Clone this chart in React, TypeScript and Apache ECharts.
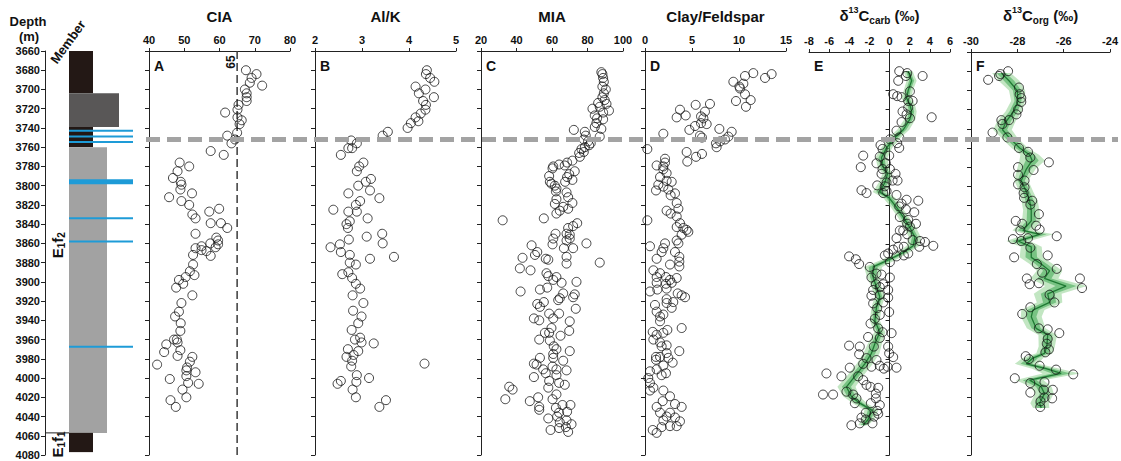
import React, { useEffect, useRef } from 'react';
import * as echarts from 'echarts';

const FONT = '"Liberation Sans", Arial, sans-serif';

// ---------- axes ----------
const DEPTH_MIN = 3660;
const DEPTH_MAX = 4080;
const DEPTH_STEP = 20;
const BOUNDARY_DEPTH = 3752;
const CIA_THRESHOLD = 65;

// ---------- lithology column ----------
// [top depth, bottom depth, lithology]
const LITHO_BEDS: [number, number, string][] = [
  [3660, 3704, 'black'],
  [3704, 3739, 'darkgrey'],
  [3739, 3760, 'black'],
  [3760, 4057, 'lightgrey'],
  [4057, 4077, 'black'],
];
// [depth, kind]
const BLUE_BEDS: [number, string][] = [
  [3743, 'thin'],
  [3749, 'thin'],
  [3754.5, 'thin'],
  [3796, 'thick'],
  [3834, 'thin'],
  [3858, 'thin'],
  [3967.5, 'thin'],
];
// members: [top, bottom, label depth, rich label]
const MEMBERS: [number, number, number, string][] = [
  [3660, 4057, 3862, 'E{s|1}f{s|2}'],
  [4057, 4080, 4069, 'E{s|1}f{s|1}'],
];

// ---------- data: [depth (m), value] ----------
const CIA_DATA: [number, number][] = [
  [3680, 67.5], [3684, 70.5], [3688, 69.1], [3693, 68.6], [3696, 72.1], [3700, 67.2], [3704, 67.7], [3708, 67.7],
  [3712, 67.7], [3716, 65.4], [3721, 65.1], [3724, 61.6], [3729, 65.1], [3732, 66.3], [3736, 65.7], [3745, 65.0],
  [3748, 62.2], [3752, 64.4], [3756, 63.4], [3764, 57.5], [3768, 61.2], [3776, 48.7], [3780, 51.4], [3785, 48.1],
  [3792, 46.8], [3796, 49.0], [3799, 49.2], [3804, 48.9], [3808, 52.2], [3812, 45.7], [3816, 49.2], [3820, 51.4],
  [3824, 59.9], [3827, 57.1], [3830, 52.3], [3834, 53.2], [3839, 60.4], [3839, 57.5], [3844, 62.2], [3850, 53.2],
  [3854, 59.1], [3857, 59.6], [3861, 59.6], [3860, 57.4], [3864, 58.9], [3868, 56.3], [3863, 54.9], [3867, 54.9],
  [3865, 53.2], [3873, 57.5], [3872, 52.5], [3882, 52.5], [3889, 51.6], [3895, 50.4], [3898, 48.5], [3893, 52.9],
  [3902, 49.7], [3906, 47.7], [3914, 52.3], [3922, 49.2], [3931, 48.5], [3936, 47.4], [3943, 49.0], [3951, 48.9],
  [3960, 47.9], [3965, 44.9], [3973, 44.3], [3963, 48.1], [3960, 47.1], [3971, 48.9], [3977, 48.1], [3978, 52.3],
  [3983, 51.6], [3989, 50.8], [3986, 42.3], [3992, 50.6], [3994, 53.2], [4001, 45.9], [3998, 50.6], [4005, 51.1],
  [4006, 54.1], [4012, 49.5], [4020, 50.6], [4023, 46.1], [4030, 47.6],
];

const ALK_DATA: [number, number][] = [
  [3680, 4.38], [3684, 4.36], [3688, 4.45], [3692, 4.54], [3697, 4.14], [3700, 4.35], [3704, 4.21], [3708, 4.53],
  [3712, 4.30], [3716, 4.36], [3721, 4.35], [3725, 4.25], [3729, 4.14], [3733, 4.20], [3735, 4.04], [3740, 3.97],
  [3744, 3.55], [3748, 3.44], [3753, 2.77], [3756, 2.89], [3761, 2.71], [3761, 2.79], [3768, 2.55], [3776, 3.03],
  [3780, 2.94], [3785, 2.89], [3793, 3.19], [3796, 3.08], [3800, 2.92], [3805, 3.17], [3808, 2.71], [3813, 3.37],
  [3816, 2.96], [3820, 2.87], [3825, 2.39], [3827, 2.71], [3827, 2.89], [3834, 3.12], [3837, 2.74], [3840, 2.67],
  [3844, 2.70], [3850, 3.43], [3853, 3.10], [3856, 2.72], [3860, 3.44], [3861, 2.53], [3864, 2.33], [3869, 2.55],
  [3872, 2.74], [3874, 3.68], [3876, 3.17], [3880, 2.74], [3882, 2.87], [3892, 2.58], [3890, 2.71], [3896, 2.79],
  [3902, 2.87], [3907, 2.96], [3914, 2.80], [3922, 3.03], [3930, 2.81], [3936, 2.99], [3943, 2.92], [3950, 2.78],
  [3960, 2.85], [3958, 2.96], [3963, 2.99], [3964, 3.25], [3970, 2.70], [3972, 2.92], [3978, 2.67], [3976, 2.82],
  [3982, 2.79], [3988, 2.77], [3985, 4.33], [4003, 2.55], [3997, 2.89], [4000, 3.15], [4004, 2.88], [4006, 2.48],
  [4012, 2.80], [4020, 2.87], [4023, 3.51], [4030, 3.37],
];

const MIA_DATA: [number, number][] = [
  [3682, 87.8], [3684, 88.4], [3688, 88.8], [3692, 89.2], [3697, 88.4], [3700, 90.3], [3704, 89.2], [3708, 88.4],
  [3711, 89.7], [3714, 86.0], [3715, 90.7], [3720, 82.8], [3718, 86.9], [3722, 92.1], [3724, 88.8], [3727, 84.1],
  [3730, 85.4], [3731, 88.8], [3735, 85.0], [3739, 84.1], [3741, 87.8], [3749, 86.9], [3742, 72.3], [3744, 78.5],
  [3748, 79.0], [3752, 77.9], [3754, 80.3], [3756, 81.8], [3760, 78.5], [3758, 80.9], [3762, 76.6], [3766, 75.3],
  [3765, 77.9], [3770, 75.7], [3774, 71.5], [3776, 68.5], [3779, 67.2], [3778, 64.0], [3780, 60.7], [3782, 60.3],
  [3785, 72.8], [3788, 69.7], [3791, 68.5], [3790, 58.4], [3796, 58.8], [3796, 67.4], [3794, 71.5], [3798, 59.7],
  [3800, 61.6], [3803, 62.5], [3807, 68.2], [3806, 62.2], [3812, 69.1], [3814, 62.5], [3818, 71.5], [3819, 61.6],
  [3822, 66.3], [3824, 69.1], [3826, 64.4], [3829, 62.5], [3834, 55.4], [3836, 32.2], [3839, 74.2], [3842, 71.9],
  [3844, 69.1], [3850, 68.2], [3850, 62.0], [3855, 60.7], [3851, 70.0], [3855, 70.0], [3857, 68.2], [3862, 48.5],
  [3860, 79.4], [3861, 60.3], [3865, 66.7], [3869, 51.7], [3872, 50.4], [3865, 71.9], [3875, 43.4], [3876, 56.5],
  [3874, 68.2], [3886, 41.9], [3888, 47.9], [3877, 57.9], [3881, 68.2], [3891, 56.9], [3880, 86.9], [3894, 57.9],
  [3895, 62.5], [3898, 60.7], [3901, 65.4], [3900, 73.8], [3906, 57.3], [3908, 53.2], [3910, 42.3], [3912, 66.3],
  [3913, 72.8], [3917, 64.4], [3916, 71.9], [3919, 63.5], [3921, 55.4], [3923, 51.7], [3926, 53.2], [3928, 73.4],
  [3933, 58.4], [3933, 64.0], [3938, 49.8], [3940, 52.8], [3938, 60.7], [3948, 59.7], [3941, 70.0], [3953, 58.4],
  [3951, 69.7], [3953, 56.0], [3960, 52.8], [3956, 64.8], [3961, 58.8], [3967, 61.0], [3970, 62.5], [3972, 70.0],
  [3975, 60.7], [3979, 53.2], [3979, 60.7], [3985, 49.8], [3982, 66.3], [3986, 51.3], [3988, 60.3], [3991, 55.0],
  [3991, 62.5], [3992, 68.2], [3999, 49.8], [3995, 56.5], [3997, 62.5], [4003, 58.4], [4005, 64.0], [4007, 67.2],
  [4009, 35.9], [4012, 37.8], [4010, 57.9], [4022, 33.7], [4024, 47.5], [4020, 52.2], [4022, 60.3], [4017, 62.5],
  [4028, 65.9], [4028, 70.4], [4030, 52.8], [4033, 52.8], [4031, 62.2], [4036, 64.0], [4035, 68.5], [4040, 62.9],
  [4042, 57.9], [4046, 64.4], [4044, 68.2], [4048, 71.0], [4054, 59.2], [4052, 64.0], [4051, 67.8], [4056, 69.1],
];

const CF_DATA: [number, number][] = [
  [3683, 11.52], [3684, 13.47], [3688, 12.77], [3686, 10.64], [3692, 9.40], [3697, 10.04], [3694, 10.46], [3699, 10.11],
  [3705, 10.64], [3712, 9.68], [3711, 11.24], [3718, 10.74], [3716, 5.39], [3715, 6.91], [3721, 3.72], [3723, 6.38],
  [3727, 4.33], [3729, 3.37], [3730, 6.21], [3728, 5.96], [3736, 6.56], [3735, 5.96], [3738, 5.32], [3742, 4.72],
  [3741, 7.91], [3748, 5.85], [3750, 6.06], [3744, 9.22], [3749, 8.87], [3752, 8.51], [3754, 7.98], [3756, 7.55],
  [3760, 7.62], [3746, 1.95], [3762, 0.25], [3765, 4.43], [3767, 6.06], [3770, 5.43], [3775, 4.50], [3772, 2.13],
  [3779, 1.24], [3776, 2.13], [3780, 1.95], [3783, 1.95], [3787, 2.30], [3791, 1.60], [3796, 2.84], [3795, 2.30],
  [3799, 1.42], [3801, 1.95], [3804, 2.48], [3808, 3.19], [3805, 1.17], [3810, 2.73], [3818, 3.37], [3824, 3.55],
  [3826, 2.30], [3829, 2.73], [3832, 3.37], [3836, 0.25], [3839, 3.72], [3843, 3.37], [3844, 4.08], [3846, 4.43],
  [3848, 4.61], [3851, 3.90], [3857, 3.37], [3860, 3.55], [3863, 0.53], [3860, 2.13], [3865, 1.95], [3869, 1.77],
  [3876, 1.24], [3869, 3.19], [3874, 3.65], [3879, 3.65], [3882, 2.66], [3884, 3.65], [3888, 0.89], [3891, 1.60],
  [3895, 1.24], [3895, 2.23], [3898, 2.66], [3896, 3.37], [3901, 1.24], [3902, 2.23], [3901, 2.84], [3910, 0.53],
  [3908, 1.31], [3907, 2.30], [3912, 3.48], [3914, 3.90], [3916, 4.26], [3921, 3.01], [3918, 2.30], [3922, 2.30],
  [3927, 2.84], [3924, 1.06], [3931, 1.24], [3934, 1.95], [3936, 1.60], [3941, 1.60], [3948, 3.90], [3950, 2.38],
  [3952, 0.82], [3955, 1.24], [3953, 1.95], [3960, 0.89], [3963, 1.60], [3966, 2.30], [3967, 1.77], [3972, 3.65],
  [3974, 2.30], [3978, 1.17], [3978, 1.60], [3979, 2.48], [3984, 2.94], [3981, 1.17], [3987, 1.95], [3991, 1.24],
  [3995, 2.23], [3993, 0.53], [3997, 1.77], [4000, 0.35], [4005, 0.53], [4010, 0.89], [4013, 0.53], [4013, 1.95],
  [4019, 2.66], [4024, 1.88], [4027, 3.19], [4030, 3.90], [4030, 1.24], [4036, 1.60], [4036, 2.66], [4040, 2.30],
  [4041, 3.19], [4044, 1.95], [4045, 3.72], [4050, 2.66], [4050, 3.37], [4051, 1.77], [4054, 0.82], [4057, 1.24],
];

const CCARB_DATA: [number, number][] = [
  [3680, 0.96], [3682, 1.75], [3685, 3.28], [3685, 1.62], [3690, 0.86], [3704, 0.36], [3706, 0.76], [3701, 2.02],
  [3707, 1.19], [3711, 1.85], [3711, 2.29], [3722, 1.29], [3718, 1.85], [3728, 4.18], [3725, 1.69], [3729, 2.02],
  [3733, 1.19], [3742, 0.69], [3749, 0.96], [3751, 0.03], [3757, -0.90], [3761, -0.70], [3755, 0.76], [3760, 0.96],
  [3768, -2.62], [3768, -0.04], [3769, -0.97], [3780, -2.86], [3776, -1.30], [3776, -0.37], [3782, -0.70], [3782, 0.03],
  [3787, -0.80], [3787, 0.59], [3794, 0.79], [3794, 0.30], [3796, -0.30], [3800, -0.47], [3799, -1.23], [3804, -2.79],
  [3807, -2.29], [3805, -0.30], [3809, 0.69], [3807, -0.63], [3814, 1.69], [3815, 2.85], [3818, 1.19], [3821, 0.96],
  [3824, 1.62], [3827, 2.45], [3832, 1.02], [3835, 1.85], [3839, 1.75], [3839, 2.62], [3842, 2.02], [3846, 1.02],
  [3846, 1.36], [3850, 1.75], [3854, 0.69], [3856, 2.29], [3857, 3.02], [3858, 3.51], [3863, 2.95], [3870, 1.85],
  [3863, 0.86], [3862, 4.34], [3863, 1.42], [3866, 0.36], [3870, -0.14], [3872, -0.47], [3873, 0.69], [3872, 1.42],
  [3879, 0.03], [3873, -4.02], [3876, -3.35], [3881, -3.02], [3884, -1.96], [3891, -1.30], [3892, -0.80], [3895, -1.80],
  [3895, 0.03], [3902, -0.63], [3902, -1.36], [3905, -0.97], [3908, -1.63], [3908, -0.14], [3914, -1.80], [3913, -0.97],
  [3916, -0.14], [3921, -0.63], [3922, -1.63], [3927, -1.23], [3931, -0.04], [3934, -0.97], [3938, -1.46], [3943, -1.89],
  [3948, -1.13], [3952, -0.70], [3953, 0.20], [3957, -2.13], [3958, -0.97], [3966, -4.02], [3967, -2.96], [3967, -1.56],
  [3967, -0.14], [3974, -0.04], [3978, 0.36], [3975, -3.02], [3979, -2.29], [3981, -1.30], [3985, -2.62], [3987, -0.97],
  [3990, -0.57], [3988, -0.20], [3989, 0.69], [3988, -1.80], [3989, -3.95], [3995, -6.27], [3998, -4.78], [3998, -3.12],
  [4002, -2.62], [4007, -2.29], [4009, -1.89], [4010, -1.13], [4016, -1.36], [4017, -6.61], [4017, -5.61], [4014, -4.28],
  [4017, -3.62], [4021, -3.29], [4021, -1.36], [4026, -1.86], [4026, -3.45], [4028, -0.97], [4034, -1.23], [4037, -1.13],
  [4036, -2.36], [4040, -1.53], [4041, -2.79], [4047, -2.96], [4043, -2.36], [4047, -1.70], [4049, -3.79],
];

const CORG_DATA: [number, number][] = [
  [3680, -28.40], [3683, -28.73], [3689, -29.26], [3685, -28.79], [3697, -27.93], [3704, -27.90], [3708, -27.83],
  [3712, -27.83], [3720, -27.97], [3725, -28.04], [3731, -28.69], [3731, -28.36], [3735, -28.64], [3744, -29.07],
  [3749, -28.43], [3760, -27.93], [3764, -27.54], [3770, -27.44], [3775, -26.64], [3783, -27.30], [3780, -27.97],
  [3788, -27.97], [3798, -27.97], [3794, -27.69], [3801, -27.69], [3807, -27.73], [3812, -27.71], [3815, -27.36],
  [3819, -27.44], [3829, -27.07], [3836, -28.07], [3839, -27.79], [3841, -27.19], [3845, -27.04], [3846, -27.87],
  [3852, -26.30], [3855, -28.19], [3857, -27.83], [3854, -27.54], [3864, -27.44], [3872, -26.69], [3874, -28.14],
  [3881, -27.16], [3886, -26.30], [3890, -26.93], [3896, -27.59], [3902, -27.47], [3901, -27.07], [3896, -25.30],
  [3906, -25.21], [3913, -26.61], [3921, -26.40], [3926, -27.44], [3933, -27.79], [3948, -27.07], [3949, -26.69],
  [3953, -26.19], [3959, -26.69], [3964, -26.73], [3970, -26.64], [3973, -26.79], [3977, -27.64], [3980, -27.50],
  [3987, -27.04], [3991, -26.33], [3996, -25.59], [4000, -28.11], [4005, -27.44], [4004, -26.83], [4012, -26.87],
  [4012, -26.47], [4015, -27.44], [4020, -26.83], [4024, -27.00], [4021, -26.50], [4030, -27.01],
];

// trend: [depth, mean, outer half-width, inner half-width]
const CCARB_TREND: [number, number, number, number][] = [
  [3680, 1.85, 0.45, 0.22], [3685, 2.02, 0.45, 0.22], [3690, 2.19, 0.5, 0.25], [3700, 1.85, 0.45, 0.22],
  [3708, 1.69, 0.5, 0.25], [3715, 2.02, 0.5, 0.25], [3722, 2.19, 0.5, 0.25], [3730, 2.02, 0.55, 0.28],
  [3741, 1.36, 0.6, 0.3], [3749, 0.53, 0.6, 0.3], [3760, -0.30, 0.55, 0.28], [3770, -0.80, 0.6, 0.3],
  [3780, -0.63, 0.55, 0.28], [3787, -0.20, 0.5, 0.25], [3796, -0.47, 0.6, 0.3], [3806, -0.97, 0.7, 0.35],
  [3812, -0.04, 0.6, 0.3], [3822, 0.69, 0.55, 0.28], [3832, 1.36, 0.55, 0.28], [3843, 2.02, 0.6, 0.3],
  [3853, 2.52, 0.6, 0.3], [3862, 2.35, 0.65, 0.32], [3869, 1.36, 0.6, 0.3], [3876, 0.03, 0.7, 0.35],
  [3884, -1.63, 0.9, 0.45], [3895, -1.63, 0.6, 0.3], [3905, -1.30, 0.5, 0.25], [3915, -0.97, 0.5, 0.25],
  [3926, -1.30, 0.5, 0.25], [3940, -1.46, 0.5, 0.25], [3952, -0.97, 0.55, 0.28], [3964, -1.46, 0.7, 0.35],
  [3974, -1.80, 0.8, 0.4], [3985, -2.46, 0.8, 0.4], [3998, -3.45, 0.8, 0.4], [4009, -4.28, 0.9, 0.45],
  [4019, -3.79, 0.8, 0.4], [4026, -2.96, 0.7, 0.35], [4033, -1.80, 0.7, 0.35], [4043, -2.13, 0.6, 0.3],
  [4049, -2.62, 0.5, 0.25],
];

const CORG_TREND: [number, number, number, number][] = [
  [3682, -28.69, 0.4, 0.2], [3690, -28.36, 0.45, 0.22], [3700, -28.01, 0.35, 0.18], [3711, -27.97, 0.3, 0.15],
  [3722, -28.16, 0.35, 0.18], [3732, -28.47, 0.4, 0.2], [3741, -28.64, 0.4, 0.2], [3749, -28.36, 0.35, 0.18],
  [3760, -27.90, 0.35, 0.18], [3767, -27.47, 0.4, 0.2], [3773, -27.36, 0.55, 0.28], [3782, -27.61, 0.4, 0.2],
  [3794, -27.83, 0.3, 0.15], [3806, -27.61, 0.3, 0.15], [3815, -27.47, 0.35, 0.18], [3825, -27.40, 0.35, 0.18],
  [3836, -27.40, 0.4, 0.2], [3846, -27.76, 0.45, 0.22], [3850, -27.04, 0.6, 0.3], [3857, -27.97, 0.5, 0.25],
  [3863, -27.40, 0.45, 0.22], [3874, -27.40, 0.5, 0.25], [3881, -26.97, 0.5, 0.25], [3888, -26.61, 0.55, 0.28],
  [3896, -26.83, 0.6, 0.3], [3904, -25.90, 0.9, 0.45], [3912, -26.69, 0.6, 0.3], [3921, -26.61, 0.55, 0.28],
  [3929, -27.33, 0.5, 0.25], [3936, -27.40, 0.45, 0.22], [3948, -27.19, 0.4, 0.2], [3955, -26.69, 0.4, 0.2],
  [3967, -26.73, 0.35, 0.18], [3974, -26.83, 0.35, 0.18], [3979, -27.33, 0.45, 0.22], [3985, -27.61, 0.5, 0.25],
  [3990, -26.76, 0.6, 0.3], [3995, -26.11, 0.8, 0.4], [4002, -27.47, 0.6, 0.3], [4009, -26.97, 0.45, 0.22],
  [4016, -26.83, 0.4, 0.2], [4026, -27.04, 0.4, 0.2], [4031, -26.97, 0.35, 0.18],
];

// ---------- styles / layout ----------
const GRID_TOP = 51;
const GRID_HEIGHT = 404;
const LITHO_STYLE: Record<string, { right: number; color: string }> = {
  black: { right: 48, color: '#231815' },
  darkgrey: { right: 74, color: '#595757' },
  lightgrey: { right: 62, color: '#a2a2a2' },
};
const COLUMN_LEFT = 24;
const BLUE_RIGHT = 88;
const BLUE_WIDTH: Record<string, number> = { thin: 2, thick: 5 };
const BLUE = '#1e9bd7';

const RICH_ISO = {
  g: { fontSize: 15, fontWeight: 'bold', fontFamily: FONT, color: '#111', lineHeight: 20, verticalAlign: 'middle' },
  sup: { fontSize: 9, fontWeight: 'bold', fontFamily: FONT, color: '#111', lineHeight: 20, verticalAlign: 'top' },
  sub: { fontSize: 10, fontWeight: 'bold', fontFamily: FONT, color: '#111', lineHeight: 20, verticalAlign: 'bottom' },
};

const PANELS = [
  { letter: 'A', name: 'CIA', min: 40, max: 80, interval: 10, left: 149, width: 141, data: CIA_DATA },
  { letter: 'B', name: 'Al/K', min: 2, max: 5, interval: 1, left: 315, width: 141, data: ALK_DATA },
  { letter: 'C', name: 'MIA', min: 20, max: 100, interval: 20, left: 481, width: 142, data: MIA_DATA },
  { letter: 'D', name: 'Clay/Feldspar', min: 0, max: 15, interval: 5, left: 645, width: 141, data: CF_DATA },
  { letter: 'E', name: '{g|δ}{sup|13}{g|C}{sub|carb}{g| (‰)}', min: -8, max: 6, interval: 2, left: 809, width: 141, data: CCARB_DATA, trend: CCARB_TREND },
  { letter: 'F', name: '{g|δ}{sup|13}{g|C}{sub|org}{g| (‰)}', min: -30, max: -24, interval: 2, left: 971, width: 140, data: CORG_DATA, trend: CORG_TREND },
];

function depthAxis(gridIndex: number, showLabels: boolean, show = true) {
  return {
    gridIndex,
    type: 'value',
    show,
    inverse: true,
    min: DEPTH_MIN,
    max: DEPTH_MAX,
    interval: DEPTH_STEP,
    axisLine: { show: true, lineStyle: { color: '#222', width: 1 } },
    axisTick: { show: true, length: 4, lineStyle: { color: '#222' } },
    axisLabel: {
      show: showLabels,
      margin: 5,
      fontFamily: FONT,
      fontWeight: 'bold',
      fontSize: 11,
      color: '#111',
      formatter: (v: number) => String(v),
    },
    splitLine: { show: false },
  };
}

function buildOption() {
  const grid: any[] = [{ left: 45, top: GRID_TOP, width: 90, height: GRID_HEIGHT }];
  const xAxis: any[] = [{ gridIndex: 0, type: 'value', min: 0, max: 90, show: false }];
  const yAxis: any[] = [depthAxis(0, true)];
  const series: any[] = [];

  // lithology column
  series.push({
    type: 'custom',
    xAxisIndex: 0,
    yAxisIndex: 0,
    silent: true,
    data: LITHO_BEDS.map((b) => [COLUMN_LEFT, b[0]]),
    renderItem: (params: any, api: any) => {
      const bed = LITHO_BEDS[params.dataIndex];
      const st = LITHO_STYLE[bed[2]];
      const p1 = api.coord([COLUMN_LEFT, bed[0]]);
      const p2 = api.coord([st.right, bed[1]]);
      return {
        type: 'rect',
        shape: { x: p1[0], y: p1[1], width: p2[0] - p1[0], height: p2[1] - p1[1] },
        style: { fill: st.color },
      };
    },
    z: 2,
  });
  series.push({
    type: 'custom',
    xAxisIndex: 0,
    yAxisIndex: 0,
    silent: true,
    data: BLUE_BEDS.map((b) => [COLUMN_LEFT, b[0]]),
    renderItem: (params: any, api: any) => {
      const b = BLUE_BEDS[params.dataIndex];
      const p1 = api.coord([COLUMN_LEFT, b[0]]);
      const p2 = api.coord([BLUE_RIGHT, b[0]]);
      const w = BLUE_WIDTH[b[1]];
      return {
        type: 'rect',
        shape: { x: p1[0], y: p1[1] - w / 2, width: p2[0] - p1[0], height: w },
        style: { fill: BLUE },
      };
    },
    z: 3,
  });
  series.push({
    type: 'custom',
    xAxisIndex: 0,
    yAxisIndex: 0,
    silent: true,
    data: MEMBERS.map((m) => [12, m[2]]),
    renderItem: (params: any, api: any) => {
      const m = MEMBERS[params.dataIndex];
      const pc = api.coord([12, m[2]]);
      const children: any[] = [
        {
          type: 'text',
          x: pc[0],
          y: pc[1],
          rotation: Math.PI / 2,
          style: {
            text: m[3],
            fill: '#111',
            font: `bold 15px ${FONT}`,
            align: 'center',
            verticalAlign: 'middle',
            rich: { s: { fontSize: 10, fontWeight: 'bold', fontFamily: FONT, verticalAlign: 'bottom', lineHeight: 18 } },
          },
        },
      ];
      if (params.dataIndex > 0) {
        const a = api.coord([0, m[0]]);
        const b = api.coord([COLUMN_LEFT, m[0]]);
        children.push({
          type: 'line',
          shape: { x1: a[0], y1: a[1], x2: b[0], y2: b[1] },
          style: { stroke: '#222', lineWidth: 1 },
        });
      }
      return { type: 'group', children };
    },
    z: 4,
  });

  PANELS.forEach((p, i) => {
    const gi = i + 1;
    grid.push({ left: p.left, top: GRID_TOP, width: p.width, height: GRID_HEIGHT });
    xAxis.push({
      gridIndex: gi,
      type: 'value',
      position: 'top',
      min: p.min,
      max: p.max,
      interval: p.interval,
      name: p.name,
      nameLocation: 'middle',
      nameGap: 27,
      nameTextStyle: {
        fontFamily: FONT,
        fontWeight: 'bold',
        fontSize: 15,
        color: '#111',
        rich: RICH_ISO,
      },
      axisLine: { show: true, lineStyle: { color: '#222', width: 1 } },
      axisTick: { show: true, length: 3, lineStyle: { color: '#222' } },
      axisLabel: { margin: 6, fontFamily: FONT, fontWeight: 'bold', fontSize: 11, color: '#111' },
      splitLine: { show: false },
    });
    yAxis.push(depthAxis(gi, false));

    if (p.trend) {
      const trend = p.trend;
      const band = (k: 2 | 3, fill: string, z: number) => ({
        type: 'custom',
        xAxisIndex: gi,
        yAxisIndex: gi,
        silent: true,
        z,
        data: [[trend[0][1], trend[0][0]]],
        renderItem: (_params: any, api: any) => {
          const leftSide = trend.map((t) => api.coord([t[1] - t[k], t[0]]));
          const rightSide = trend.slice().reverse().map((t) => api.coord([t[1] + t[k], t[0]]));
          return { type: 'polygon', shape: { points: leftSide.concat(rightSide) }, style: { fill } };
        },
      });
      series.push(band(2, 'rgba(120, 200, 120, 0.45)', 1));
      series.push(band(3, 'rgba(60, 165, 80, 0.55)', 1));
      series.push({
        type: 'line',
        xAxisIndex: gi,
        yAxisIndex: gi,
        data: trend.map((t) => [t[1], t[0]]),
        showSymbol: false,
        symbol: 'none',
        lineStyle: { color: '#1f7a33', width: 1.3 },
        z: 2,
        silent: true,
      });
    }

    series.push({
      type: 'scatter',
      xAxisIndex: gi,
      yAxisIndex: gi,
      data: p.data.map((d) => [d[1], d[0]]),
      symbol: 'circle',
      symbolSize: 9,
      itemStyle: { color: 'rgba(255,255,255,0)', borderColor: '#151515', borderWidth: 1 },
      z: 3,
      silent: true,
    });

    if (i === 0) {
      series.push({
        type: 'line',
        xAxisIndex: gi,
        yAxisIndex: gi,
        data: [
          [CIA_THRESHOLD, DEPTH_MIN],
          [CIA_THRESHOLD, DEPTH_MAX],
        ],
        symbol: 'none',
        lineStyle: { color: '#3a3a3a', width: 1.5, type: [8, 4] },
        z: 2,
        silent: true,
      });
    }
  });

  // overlay grid for the dashed boundary line
  const og = grid.length;
  grid.push({ left: 146, top: GRID_TOP, width: 972, height: GRID_HEIGHT });
  xAxis.push({ gridIndex: og, type: 'value', min: 0, max: 1, show: false });
  yAxis.push(depthAxis(og, false, false));
  series.push({
    type: 'line',
    xAxisIndex: og,
    yAxisIndex: og,
    data: [
      [0, BOUNDARY_DEPTH],
      [1, BOUNDARY_DEPTH],
    ],
    symbol: 'none',
    lineStyle: { color: '#a3a3a3', width: 5, type: [14, 7] },
    z: 10,
    silent: true,
  });

  return {
    animation: false,
    backgroundColor: '#ffffff',
    textStyle: { fontFamily: FONT },
    grid,
    xAxis,
    yAxis,
    series,
  };
}

function staticGraphics(chart: any) {
  const els: any[] = [
    {
      type: 'text',
      x: 28,
      y: 21,
      style: { text: 'Depth', font: `bold 13px ${FONT}`, fill: '#111', align: 'center', verticalAlign: 'middle' },
    },
    {
      type: 'text',
      x: 29,
      y: 36,
      style: { text: '(m)', font: `bold 13px ${FONT}`, fill: '#111', align: 'center', verticalAlign: 'middle' },
    },
    {
      type: 'text',
      x: 68,
      y: 42,
      rotation: (54 * Math.PI) / 180,
      style: { text: 'Member', font: `bold 13px ${FONT}`, fill: '#111', align: 'center', verticalAlign: 'middle' },
    },
  ];
  PANELS.forEach((p) => {
    els.push({
      type: 'text',
      x: p.left + 5,
      y: 66,
      style: { text: p.letter, font: `bold 14px ${FONT}`, fill: '#111', align: 'left', verticalAlign: 'middle' },
    });
  });
  const pt = chart.convertToPixel({ xAxisIndex: 1, yAxisIndex: 1 }, [CIA_THRESHOLD, DEPTH_MIN]);
  if (pt) {
    els.push({
      type: 'text',
      x: pt[0] - 6,
      y: pt[1] + 11,
      rotation: Math.PI / 2,
      style: { text: String(CIA_THRESHOLD), font: `bold 12px ${FONT}`, fill: '#111', align: 'center', verticalAlign: 'middle' },
    });
  }
  return els;
}

export default function App() {
  const ref = useRef<HTMLDivElement>(null);
  useEffect(() => {
    if (!ref.current) return;
    const chart = echarts.init(ref.current, null, { renderer: 'svg' });
    chart.setOption(buildOption() as any);
    chart.setOption({ graphic: staticGraphics(chart) } as any);
    return () => chart.dispose();
  }, []);
  return (
    <div
      ref={ref}
      style={{ position: 'fixed', left: 0, top: 0, width: 1121, height: 461, background: '#fff' }}
    />
  );
}
